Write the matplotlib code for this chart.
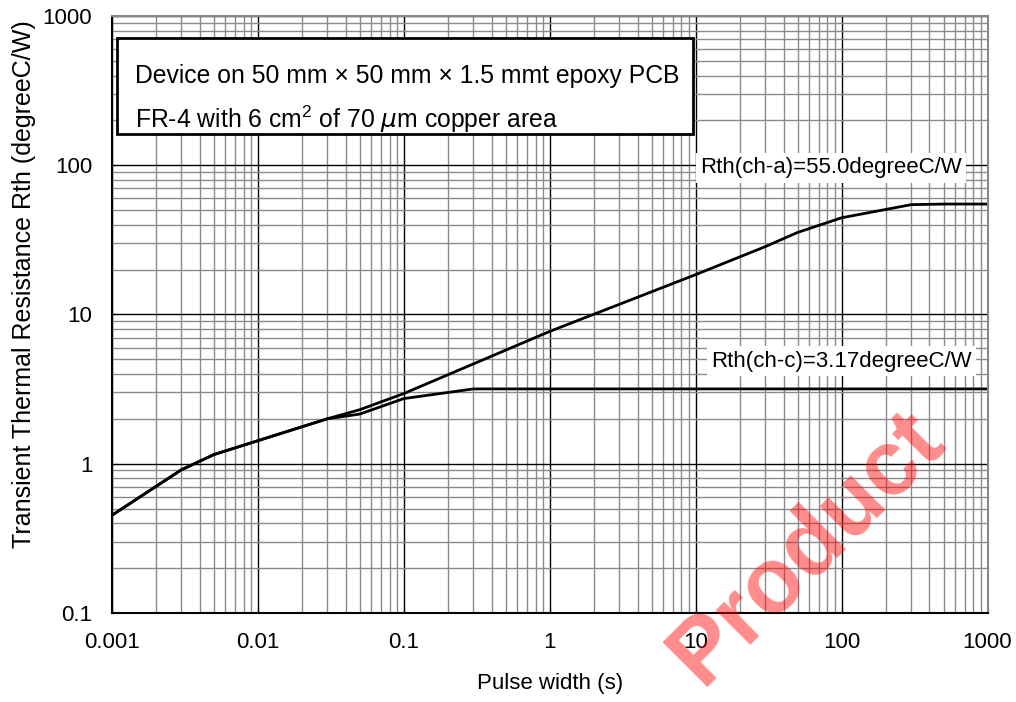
import matplotlib.pyplot as plt
from matplotlib.ticker import LogLocator, NullFormatter, FixedLocator

plt.rcParams['font.family'] = ['Liberation Sans', 'DejaVu Sans']

# Rth(ch-a) curve
t_cha = [0.001, 0.003, 0.005, 0.03, 0.05, 0.1, 1, 10, 30, 50, 100, 300, 500, 1000]
r_cha = [0.45, 0.91, 1.15, 2.0, 2.3, 2.95, 7.7, 18.5, 28.5, 35.5, 44.5, 54.5, 55.0, 55.0]

# Rth(ch-c) curve
t_chc = [0.001, 0.003, 0.005, 0.03, 0.05, 0.1, 0.3, 1000]
r_chc = [0.45, 0.91, 1.15, 2.0, 2.15, 2.73, 3.17, 3.17]

x_ticks = [0.001, 0.01, 0.1, 1, 10, 100, 1000]
x_labels = ['0.001', '0.01', '0.1', '1', '10', '100', '1000']
y_ticks = [0.1, 1, 10, 100, 1000]
y_labels = ['0.1', '1', '10', '100', '1000']

W, H = 1016, 702


def px(x, y):
    # figure fraction from pixel position (top-left origin)
    return x / W, 1 - y / H


fig = plt.figure(figsize=(W / 100, H / 100), dpi=100)
ax = fig.add_axes([0.110, 0.127, 0.862, 0.850])
ax.set_xscale('log')
ax.set_yscale('log')
ax.set_xlim(0.001, 1000)
ax.set_ylim(0.1, 1000)

ax.xaxis.set_major_locator(FixedLocator(x_ticks))
ax.set_xticklabels(x_labels)
ax.yaxis.set_major_locator(FixedLocator(y_ticks))
ax.set_yticklabels(y_labels)
ax.xaxis.set_minor_locator(LogLocator(base=10, subs=range(2, 10)))
ax.yaxis.set_minor_locator(LogLocator(base=10, subs=range(2, 10)))
ax.xaxis.set_minor_formatter(NullFormatter())
ax.yaxis.set_minor_formatter(NullFormatter())

ax.grid(True, which='major', color='black', linewidth=1.0)
ax.grid(True, which='minor', color='#8a8a8a', linewidth=1.0)
ax.tick_params(which='major', direction='in', length=4, labelsize=16, pad=14)
ax.tick_params(which='minor', length=0)
ax.set_axisbelow(True)
for side in ['top', 'right']:
    ax.spines[side].set_color('#888888')
    ax.spines[side].set_linewidth(1.5)
for side in ['left', 'bottom']:
    ax.spines[side].set_linewidth(1.5)

ax.plot(t_cha, r_cha, color='black', linewidth=2)
ax.plot(t_chc, r_chc, color='black', linewidth=2)

# condition box
x0, y0 = px(117, 134)
fig.patches.append(plt.Rectangle((x0, y0), (693 - 117) / W, (134 - 38) / H,
                                 transform=fig.transFigure, facecolor='white',
                                 edgecolor='black', linewidth=2, zorder=5))
fig.text(*px(135, 76), 'Device on 50 mm × 50 mm × 1.5 mmt epoxy PCB',
         fontsize=17.8, ha='left', va='center', zorder=6)
fig.text(*px(135, 119), 'FR-4 with 6 cm$^{\\mathregular{2}}$ of 70 $\\mu$m copper area',
         fontsize=17.8, ha='left', va='center', zorder=6)

fig.text(*px(962, 168), 'Rth(ch-a)=55.0degreeC/W', fontsize=16, ha='right', va='center',
         bbox=dict(facecolor='white', edgecolor='none', pad=3), zorder=6)
fig.text(*px(972, 361), 'Rth(ch-c)=3.17degreeC/W', fontsize=16, ha='right', va='center',
         bbox=dict(facecolor='white', edgecolor='none', pad=3), zorder=6)

fig.text(*px(550, 684), 'Pulse width (s)', fontsize=16, ha='center', va='center')
fig.text(*px(24, 548), 'Transient Thermal Resistance Rth (degreeC/W)',
         fontsize=18, rotation=90, ha='center', va='bottom')

# watermark
fig.text(*px(808, 548), 'Product', fontsize=66, fontweight='bold',
         color='red', alpha=0.45, rotation=45, ha='center', va='center', zorder=10)

fig.savefig('out.png', dpi=100)
